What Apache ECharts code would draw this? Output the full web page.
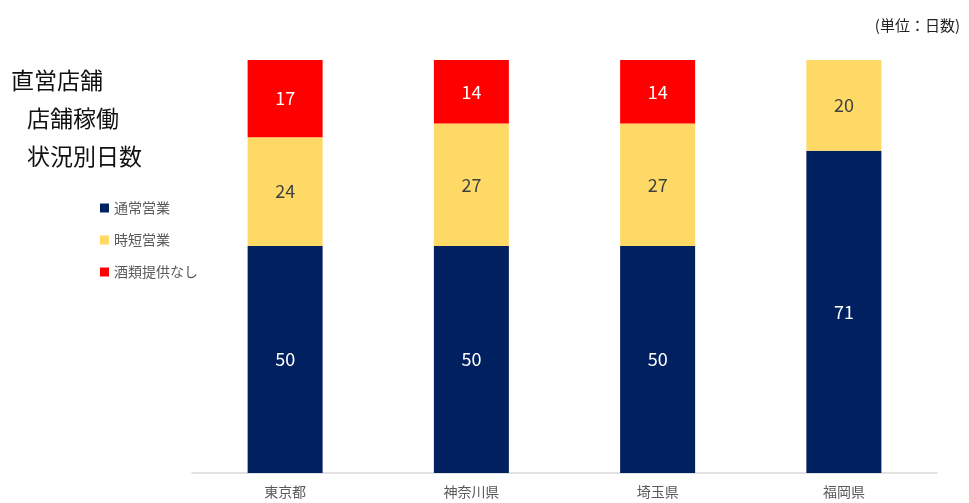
<!DOCTYPE html>
<html>
<head>
<meta charset="utf-8">
<script src="https://cdn.jsdelivr.net/npm/echarts@6/dist/echarts.min.js"></script>
<style>
  html, body { margin: 0; padding: 0; background: #fff; }
  #chart { width: 969px; height: 503px; }
</style>
</head>
<body>
<div id="chart"></div>
<script>
const categories = ['東京都', '神奈川県', '埼玉県', '福岡県'];
const normalDays = [50, 50, 50, 71];
const shortDays = [24, 27, 27, 20];
const noAlcoholDays = [17, 14, 14, null];
const seriesNames = ['通常営業', '時短営業', '酒類提供なし'];

const font = '"Noto Sans CJK JP", "Noto Sans", sans-serif';

const myChart = echarts.init(document.getElementById('chart'));

const labelStyle = (color) => ({
  show: true,
  position: 'inside',
  color: color,
  fontSize: 18,
  fontFamily: font,
  formatter: (p) => (p.value == null ? '' : p.value),
});

const titleText = { fontSize: 23, fontWeight: 'normal', color: '#111', fontFamily: font };

const option = {
  backgroundColor: '#ffffff',
  textStyle: { fontFamily: font },
  title: [
    { text: '直営店舗', left: 6, top: 64, textStyle: titleText },
    { text: '店舗稼働', left: 22, top: 102, textStyle: titleText },
    { text: '状況別日数', left: 22, top: 140, textStyle: titleText },
    { text: '(単位：日数)', right: 4, top: 13, textStyle: { fontSize: 15, fontWeight: 'normal', color: '#222', fontFamily: font } },
  ],
  legend: {
    orient: 'vertical',
    left: 95,
    top: 196,
    itemWidth: 9,
    itemHeight: 9,
    itemGap: 18,
    icon: 'rect',
    data: seriesNames,
    textStyle: { fontSize: 14, color: '#595959', fontFamily: font },
  },
  grid: {
    left: 192,
    right: 32,
    top: 60,
    bottom: 30,
  },
  xAxis: {
    type: 'category',
    data: categories,
    axisLine: { lineStyle: { color: '#d9d9d9', width: 1.5 } },
    axisTick: { show: false },
    axisLabel: { color: '#595959', fontSize: 14, margin: 12, fontFamily: font },
  },
  yAxis: {
    type: 'value',
    min: 0,
    max: 91,
    show: false,
    splitLine: { show: false },
  },
  series: [
    {
      name: seriesNames[0],
      type: 'bar',
      stack: 'total',
      barWidth: 75,
      data: normalDays,
      itemStyle: { color: '#002060' },
      label: labelStyle('#ffffff'),
    },
    {
      name: seriesNames[1],
      type: 'bar',
      stack: 'total',
      barWidth: 75,
      data: shortDays,
      itemStyle: { color: '#ffd966' },
      label: labelStyle('#404040'),
    },
    {
      name: seriesNames[2],
      type: 'bar',
      stack: 'total',
      barWidth: 75,
      data: noAlcoholDays,
      itemStyle: { color: '#ff0000' },
      label: labelStyle('#ffffff'),
    },
  ],
};

myChart.setOption(option);
</script>
</body>
</html>
